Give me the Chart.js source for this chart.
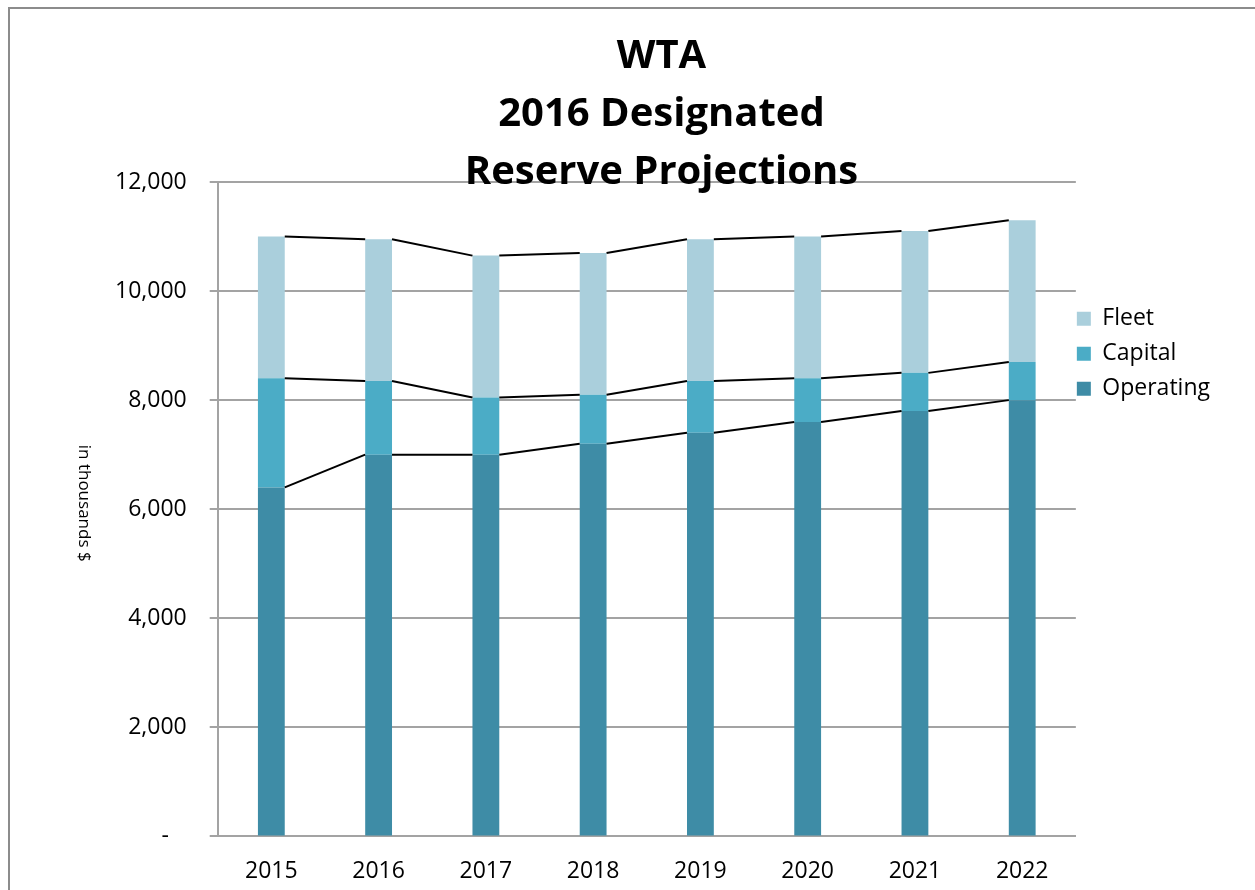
<!DOCTYPE html>
<html>
<head>
<meta charset="utf-8">
<script src="https://cdn.jsdelivr.net/npm/chart.js@4.4.1/dist/chart.umd.min.js"></script>
<style>
  html, body { margin: 0; padding: 0; background: #fff; overflow: hidden; }
  #wrap { position: relative; width: 1255px; height: 890px; }
  #frame { position: absolute; left: 8px; top: 7px; width: 1300px; height: 1000px;
           border: 2px solid #8c8c8c; pointer-events: none; }
</style>
</head>
<body>
<div id="wrap">
  <canvas id="myChart" width="1255" height="890"></canvas>
  <div id="frame"></div>
</div>
<script>
// chart data (in thousands $)
const years = ['2015', '2016', '2017', '2018', '2019', '2020', '2021', '2022'];
const operating = [6400, 7000, 7000, 7200, 7400, 7600, 7800, 8000];
const capital = [2000, 1350, 1050, 900, 950, 800, 700, 700];
const fleet = [2600, 2600, 2600, 2600, 2600, 2600, 2600, 2600];
const titleLines = ['WTA', '2016 Designated', 'Reserve Projections'];
const yMax = 12000;
const yStep = 2000;

const ctx = document.getElementById('myChart');
const gridGray = '#a3a3a3';

Chart.defaults.font.family = "'Open Sans', sans-serif";
Chart.defaults.color = '#000';

// Excel-style series lines joining segment tops of neighbouring bars
const seriesLines = {
  id: 'seriesLines',
  afterDatasetsDraw(chart) {
    const c = chart.ctx;
    c.save();
    c.strokeStyle = '#000';
    c.lineWidth = 2;
    chart.data.datasets.forEach((ds, i) => {
      const bars = chart.getDatasetMeta(i).data;
      for (let j = 0; j < bars.length - 1; j++) {
        const a = bars[j], b = bars[j + 1];
        c.beginPath();
        c.moveTo(a.x + a.width / 2, a.y);
        c.lineTo(b.x - b.width / 2, b.y);
        c.stroke();
      }
    });
    c.restore();
  }
};

// y axis title, reads top to bottom like the original
const yAxisTitle = {
  id: 'yAxisTitle',
  afterDraw(chart) {
    const c = chart.ctx;
    const area = chart.chartArea;
    c.save();
    c.translate(area.left - 134, (area.top + area.bottom) / 2 - 6);
    c.rotate(Math.PI / 2);
    c.font = "17px 'Open Sans', sans-serif";
    c.fillStyle = '#000';
    c.textAlign = 'center';
    c.textBaseline = 'middle';
    c.fillText('in thousands $', 0, 0);
    c.restore();
  }
};

// pull the legend in so it sits right against the plot, as in Excel
const legendNudge = {
  id: 'legendNudge',
  afterLayout(chart) {
    const lg = chart.legend;
    if (!lg) return;
    lg.left -= 11;
    lg.right -= 11;
  }
};

let myChart = new Chart(ctx, {
  type: 'bar',
  data: {
    labels: years,
    datasets: [
      { label: 'Operating', data: operating, backgroundColor: '#3e8ca6', borderWidth: 0 },
      { label: 'Capital', data: capital, backgroundColor: '#4bacc6', borderWidth: 0 },
      { label: 'Fleet', data: fleet, backgroundColor: '#aacfdc', borderWidth: 0 }
    ]
  },
  options: {
    responsive: false,
    animation: false,
    layout: {
      padding: { left: 92, right: 24, top: 0, bottom: -16 }
    },
    datasets: {
      bar: { categoryPercentage: 1, barPercentage: 0.25 }
    },
    scales: {
      x: {
        stacked: true,
        grid: { display: false, drawTicks: false },
        border: { display: true, color: gridGray, width: 2 },
        ticks: { padding: 21, color: '#000', font: { size: 23 } }
      },
      y: {
        stacked: true,
        min: 0,
        max: yMax,
        grid: { color: gridGray, lineWidth: 2, tickLength: 8, tickColor: gridGray },
        border: { display: true, color: gridGray, width: 2 },
        ticks: {
          stepSize: yStep,
          padding: 23,
          color: '#000',
          font: { size: 23 },
          callback: v => v === 0 ? '-   ' : v.toLocaleString('en-US')
        }
      }
    },
    plugins: {
      title: {
        display: true,
        text: titleLines,
        color: '#000',
        font: { size: 40, weight: 'bold', lineHeight: 1.45 },
        padding: { top: 28, bottom: -20 }
      },
      legend: {
        position: 'right',
        align: 'start',
        reverse: true,
        title: { display: true, text: '', font: { size: 1 }, padding: { top: 0, bottom: 294 } },
        labels: { boxWidth: 14, boxHeight: 14, padding: 12, color: '#000', font: { size: 23 } }
      },
      tooltip: { enabled: false }
    }
  },
  plugins: [seriesLines, yAxisTitle, legendNudge]
});
</script>
</body>
</html>
